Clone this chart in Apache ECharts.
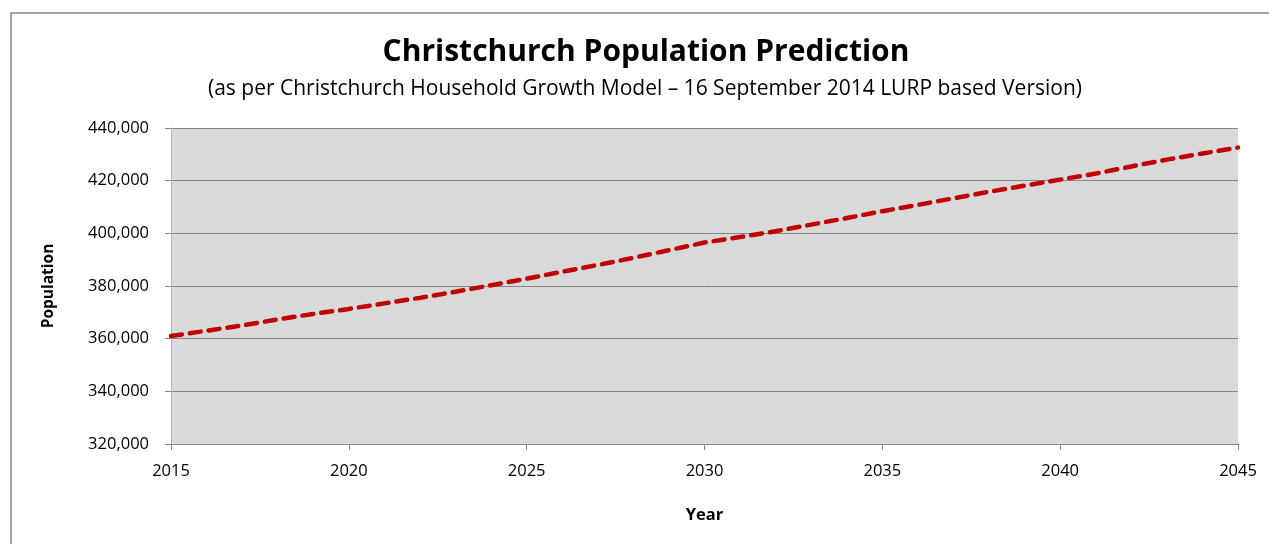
<!DOCTYPE html>
<html>
<head>
<meta charset="utf-8">
<title>Christchurch Population Prediction</title>
<script src="https://cdn.jsdelivr.net/npm/echarts@6/dist/echarts.min.js"></script>
<style>
  html, body { margin: 0; padding: 0; background: #fff; }
  #chart { width: 1269px; height: 544px; }
</style>
</head>
<body>
<div id="chart"></div>
<script>
  // values
  var years = [2015, 2016, 2017, 2018, 2019, 2020, 2021, 2022, 2023, 2024,
               2025, 2026, 2027, 2028, 2029, 2030, 2031, 2032, 2033, 2034,
               2035, 2036, 2037, 2038, 2039, 2040, 2041, 2042, 2043, 2044, 2045];
  var population = [361000, 363000, 365000, 367300, 369400, 371300, 373400, 375500, 377800, 380300,
                    382800, 385400, 388000, 390700, 393600, 396500, 398600, 400800, 403300, 405800,
                    408400, 410800, 413300, 415800, 418100, 420400, 422700, 425400, 428000, 430300,
                    432600];
  var titleText = 'Christchurch Population Prediction';
  var subtitleText = '(as per Christchurch Household Growth Model \u2013 16 September 2014 LURP based Version)';

  var font = '"Open Sans", "Noto Sans", sans-serif';

  var points = [];
  for (var i = 0; i < years.length; i++) {
    points.push([years[i], population[i]]);
  }

  var chart = echarts.init(document.getElementById('chart'));

  chart.setOption({
    backgroundColor: '#ffffff',
    animation: false,
    textStyle: { fontFamily: font },
    graphic: [{
      type: 'rect',
      shape: { x: 11, y: 13, width: 1290, height: 560 },
      style: { fill: 'none', stroke: '#868686', lineWidth: 1.5 },
      silent: true
    }, {
      // title sits a little right of the page centre, as in the original
      type: 'text',
      x: 646,
      y: 52,
      style: {
        text: titleText,
        fontFamily: font,
        fontSize: 30,
        fontWeight: 'bold',
        fill: '#000',
        align: 'center',
        verticalAlign: 'middle'
      },
      silent: true
    }, {
      type: 'text',
      x: 645,
      y: 89,
      style: {
        text: subtitleText,
        fontFamily: font,
        fontSize: 21,
        fill: '#000',
        align: 'center',
        verticalAlign: 'middle'
      },
      silent: true
    }],
    grid: {
      left: 171,
      right: 31,
      top: 128,
      bottom: 100,
      show: true,
      backgroundColor: '#d9d9d9',
      borderWidth: 0
    },
    xAxis: {
      type: 'value',
      min: 2015,
      max: 2045,
      interval: 5,
      name: 'Year',
      nameLocation: 'middle',
      nameGap: 63,
      nameTextStyle: { fontFamily: font, fontSize: 16.5, fontWeight: 'bold', color: '#000' },
      axisLine: { show: true, onZero: false, lineStyle: { color: '#868686', width: 1 } },
      axisTick: { show: true, length: 6, lineStyle: { color: '#868686' } },
      axisLabel: {
        margin: 19,
        fontSize: 16.5,
        color: '#000',
        formatter: function (v) { return String(v); }
      },
      splitLine: { show: false }
    },
    yAxis: {
      type: 'value',
      min: 320000,
      max: 440000,
      interval: 20000,
      name: 'Population',
      nameLocation: 'middle',
      nameGap: 114,
      nameTextStyle: { fontFamily: font, fontSize: 15.5, fontWeight: 'bold', color: '#000' },
      axisLine: { show: true, lineStyle: { color: '#b4b4b4', width: 1 } },
      axisTick: { show: true, length: 6, lineStyle: { color: '#868686' } },
      axisLabel: {
        margin: 22,
        fontSize: 16.5,
        color: '#000',
        formatter: function (v) { return echarts.format.addCommas(v); }
      },
      splitLine: { show: true, lineStyle: { color: '#868686', width: 1 } }
    },
    series: [{
      type: 'line',
      data: points,
      showSymbol: false,
      smooth: false,
      lineStyle: { color: '#c00000', width: 4.5, type: [11, 8], cap: 'round' }
    }]
  });
</script>
</body>
</html>
